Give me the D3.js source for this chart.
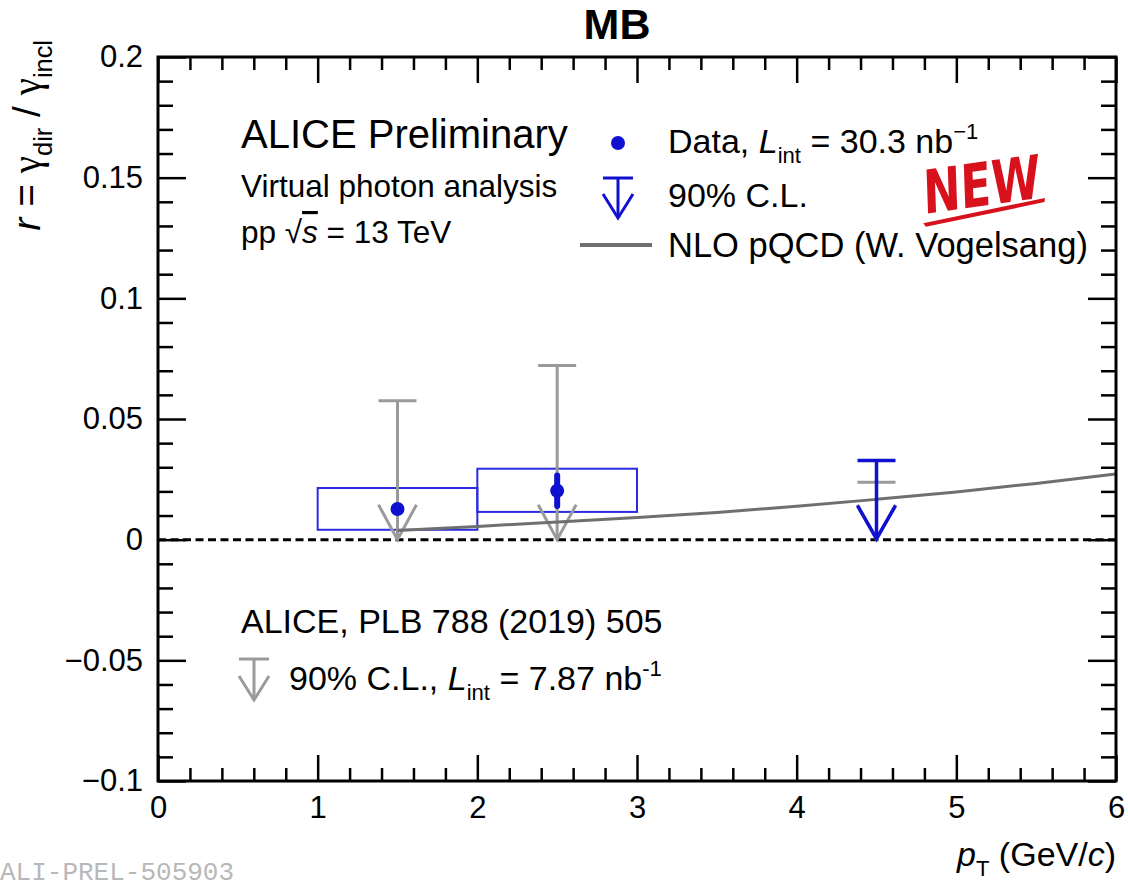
<!DOCTYPE html>
<html>
<head>
<meta charset="utf-8">
<script src="https://cdn.jsdelivr.net/npm/d3@7"></script>
<style>
  html, body { margin: 0; padding: 0; background: #fff; }
</style>
</head>
<body>
<svg id="chart" width="1128" height="889" font-family="'Liberation Sans', Arial, sans-serif"></svg>
<script>
'use strict';

// ---- data ----
const xMajor = [0, 1, 2, 3, 4, 5, 6];
const xMinor = [0.2, 0.4, 0.6, 0.8, 1.2, 1.4, 1.6, 1.8, 2.2, 2.4, 2.6, 2.8, 3.2, 3.4, 3.6, 3.8, 4.2, 4.4, 4.6, 4.8, 5.2, 5.4, 5.6, 5.8];
const yMajor = [-0.1, -0.05, 0, 0.05, 0.1, 0.15, 0.2];
const yMinor = [-0.09, -0.08, -0.07, -0.06, -0.04, -0.03, -0.02, -0.01, 0.01, 0.02, 0.03, 0.04, 0.06, 0.07, 0.08, 0.09, 0.11, 0.12, 0.13, 0.14, 0.16, 0.17, 0.18, 0.19];
const yLabels = ['\u22120.1', '\u22120.05', '0', '0.05', '0.1', '0.15', '0.2'];

// new data points (virtual photon, 13 TeV)
const ptData = [1.5, 2.5];
const rData = [0.0127, 0.0203];
const rStat = [0, 0.0063];
const binLow = [1, 2];
const binHigh = [2, 3];
const sysLow = [0.0041, 0.0115];
const sysHigh = [0.0214, 0.0294];

// new 90% C.L. upper limit
const ulPt = [4.5];
const ulVal = [0.0328];

// PLB 788 (2019) 505 upper limits
const oldUlPt = [1.5, 2.5, 4.5];
const oldUlVal = [0.0576, 0.0722, 0.0238];

// NLO pQCD (W. Vogelsang)
const nloPt = [1.5, 2, 2.5, 3, 3.5, 4, 4.5, 5, 5.5, 6];
const nloR = [0.0038, 0.0055, 0.0073, 0.0092, 0.0113, 0.0138, 0.0167, 0.0198, 0.0233, 0.0272];

// ---- layout ----
const svg = d3.select('#chart');
const pLeft = 158, pRight = 1116, pTop = 57, pBottom = 781;
const x = d3.scaleLinear().domain([0, 6]).range([pLeft, pRight]);
const y = d3.scaleLinear().domain([-0.1, 0.2]).range([pBottom, pTop]);

const blue = '#1010d0';
const grey = '#9a9a9a';
const font = 31;

// helper: write rich text from segments {t, it, sub, sup, fam, over}
function rich(g, segs, size) {
  let shift = 0;
  segs.forEach(s => {
    let want = s.sub ? 0.3 * size : (s.sup ? -0.4 * size : 0);
    let ts = g.append('tspan').text(s.t).attr('dy', want - shift);
    if (s.it) ts.attr('font-style', 'italic');
    if (s.sub || s.sup) ts.attr('font-size', size * 0.65);
    if (s.fam) ts.attr('font-family', s.fam);
    if (s.over) ts.style('text-decoration', 'overline');
    shift = want;
  });
}

// arrow for upper limits
function arrow(g, px, capY, tipY, color, w, half, headH) {
  g.append('line').attr('x1', px - half).attr('x2', px + half)
    .attr('y1', capY).attr('y2', capY);
  g.append('line').attr('x1', px).attr('x2', px)
    .attr('y1', capY).attr('y2', tipY);
  g.append('path')
    .attr('d', `M${px - half},${tipY - headH}L${px},${tipY}L${px + half},${tipY - headH}`)
    .attr('fill', 'none');
  g.attr('stroke', color).attr('stroke-width', w);
}

// zero line
svg.append('line')
  .attr('x1', pLeft).attr('x2', pRight)
  .attr('y1', y(0)).attr('y2', y(0))
  .attr('stroke', '#000').attr('stroke-width', 3)
  .attr('stroke-dasharray', '8,4.5');

// systematic boxes
svg.append('g').selectAll('rect')
  .data(ptData)
  .join('rect')
  .attr('x', (d, i) => x(binLow[i]))
  .attr('width', (d, i) => x(binHigh[i]) - x(binLow[i]))
  .attr('y', (d, i) => y(sysHigh[i]))
  .attr('height', (d, i) => y(sysLow[i]) - y(sysHigh[i]))
  .attr('fill', 'none')
  .attr('stroke', '#2a2ae0')
  .attr('stroke-width', 2);

// old upper limits (grey)
oldUlPt.forEach((p, i) => {
  arrow(svg.append('g'), x(p), y(oldUlVal[i]), y(0), grey, 3, 19, 35);
});

// NLO curve
svg.append('path')
  .datum(nloPt)
  .attr('d', d3.line().x(d => x(d)).y((d, i) => y(nloR[i])).curve(d3.curveMonotoneX))
  .attr('fill', 'none')
  .attr('stroke', '#6f6f6f')
  .attr('stroke-width', 3);

// new upper limit (blue)
ulPt.forEach((p, i) => {
  arrow(svg.append('g'), x(p), y(ulVal[i]), y(0) - 1, blue, 3.5, 19, 33);
});

// stat errors + points
svg.append('g').selectAll('line')
  .data(ptData)
  .join('line')
  .attr('x1', d => x(d)).attr('x2', d => x(d))
  .attr('y1', (d, i) => y(rData[i] + rStat[i]))
  .attr('y2', (d, i) => y(rData[i] - rStat[i]))
  .attr('stroke', blue).attr('stroke-width', 6)
  .attr('stroke-linecap', 'round');

svg.append('g').selectAll('circle')
  .data(ptData)
  .join('circle')
  .attr('cx', d => x(d))
  .attr('cy', (d, i) => y(rData[i]))
  .attr('r', 7)
  .attr('fill', blue);

// ---- axes ----
function styleAxis(g) {
  g.attr('font-family', null).attr('font-size', null);
  g.select('.domain').remove();
  g.selectAll('.tick line').attr('stroke', '#000').attr('stroke-width', 2.5);
  g.selectAll('.tick text').attr('font-size', font).attr('fill', '#000');
}

svg.append('g').attr('transform', `translate(0,${pBottom})`)
  .call(d3.axisBottom(x).tickValues(xMajor).tickSize(-26).tickPadding(15).tickFormat(d3.format('d')))
  .call(styleAxis);
svg.append('g').attr('transform', `translate(0,${pBottom})`)
  .call(d3.axisBottom(x).tickValues(xMinor).tickSize(-13).tickFormat(''))
  .call(styleAxis);
svg.append('g').attr('transform', `translate(0,${pTop})`)
  .call(d3.axisTop(x).tickValues(xMajor).tickSize(-26).tickFormat(''))
  .call(styleAxis);
svg.append('g').attr('transform', `translate(0,${pTop})`)
  .call(d3.axisTop(x).tickValues(xMinor).tickSize(-13).tickFormat(''))
  .call(styleAxis);

svg.append('g').attr('transform', `translate(${pLeft},0)`)
  .call(d3.axisLeft(y).tickValues(yMajor).tickSize(-28).tickPadding(15)
    .tickFormat((d, i) => yLabels[i]))
  .call(styleAxis);
svg.append('g').attr('transform', `translate(${pLeft},0)`)
  .call(d3.axisLeft(y).tickValues(yMinor).tickSize(-15).tickFormat(''))
  .call(styleAxis);
svg.append('g').attr('transform', `translate(${pRight},0)`)
  .call(d3.axisRight(y).tickValues(yMajor).tickSize(-28).tickFormat(''))
  .call(styleAxis);
svg.append('g').attr('transform', `translate(${pRight},0)`)
  .call(d3.axisRight(y).tickValues(yMinor).tickSize(-15).tickFormat(''))
  .call(styleAxis);

svg.append('rect')
  .attr('x', pLeft).attr('y', pTop)
  .attr('width', pRight - pLeft).attr('height', pBottom - pTop)
  .attr('fill', 'none').attr('stroke', '#000').attr('stroke-width', 3);

// axis titles
let xt = svg.append('text').attr('x', pRight).attr('y', 866)
  .attr('text-anchor', 'end').attr('font-size', 34);
rich(xt, [{t: 'p', it: true}, {t: 'T', sub: true}, {t: ' (GeV/'}, {t: 'c', it: true}, {t: ')'}], 34);

const gam = "'Liberation Serif', serif";
let yt = svg.append('text')
  .attr('transform', 'translate(40,40) rotate(-90)')
  .attr('text-anchor', 'end').attr('font-size', 39);
rich(yt, [{t: 'r', it: true}, {t: ' = '}, {t: '\u03b3', fam: gam}, {t: 'dir', sub: true},
  {t: ' / '}, {t: '\u03b3', fam: gam}, {t: 'incl', sub: true}], 39);

// title
svg.append('text').attr('x', 617).attr('y', 39)
  .attr('text-anchor', 'middle').attr('font-size', 43).attr('font-weight', 'bold')
  .text('MB');

// ---- labels ----
svg.append('text').attr('x', 241).attr('y', 148).attr('font-size', 40)
  .text('ALICE Preliminary');
svg.append('text').attr('x', 241).attr('y', 197).attr('font-size', 31.5)
  .text('Virtual photon analysis');
let ss = svg.append('text').attr('x', 241).attr('y', 243).attr('font-size', 31.5);
rich(ss, [{t: 'pp \u221a'}, {t: 's', it: true, over: true}, {t: ' = 13 TeV'}], 31.5);

// legend (new)
const lx = 668;
svg.append('circle').attr('cx', 618).attr('cy', 143).attr('r', 7).attr('fill', blue);
let l1 = svg.append('text').attr('x', lx).attr('y', 153).attr('font-size', 34);
rich(l1, [{t: 'Data, '}, {t: 'L', it: true}, {t: 'int', sub: true}, {t: ' = 30.3 nb'}, {t: '\u22121', sup: true}], 34);

arrow(svg.append('g'), 618, 178, 218, blue, 3, 15, 24);
svg.append('text').attr('x', lx).attr('y', 207).attr('font-size', 34).text('90% C.L.');

svg.append('line').attr('x1', 580).attr('x2', 652).attr('y1', 245).attr('y2', 245)
  .attr('stroke', '#707070').attr('stroke-width', 4);
svg.append('text').attr('x', lx).attr('y', 257).attr('font-size', 34.5).text('NLO pQCD (W. Vogelsang)');

// legend (old)
svg.append('text').attr('x', 241).attr('y', 633).attr('font-size', 34).text('ALICE, PLB 788 (2019) 505');
arrow(svg.append('g'), 254, 659, 700, grey, 3, 15, 24);
let l4 = svg.append('text').attr('x', 289).attr('y', 690).attr('font-size', 34);
rich(l4, [{t: '90% C.L., '}, {t: 'L', it: true}, {t: 'int', sub: true}, {t: ' = 7.87 nb'}, {t: '-1', sup: true}], 34);

// NEW stamp
const stamp = svg.append('g').attr('transform', 'translate(924,214) rotate(-8)');
stamp.append('text').attr('x', 0).attr('y', 0)
  .attr('font-size', 60).attr('font-weight', 'bold')
  .attr('font-family', "'Liberation Sans Narrow', 'DejaVu Sans Condensed', sans-serif")
  .attr('fill', '#d8121c')
  .attr('textLength', 118).attr('lengthAdjust', 'spacingAndGlyphs')
  .attr('transform', 'skewX(-6)')
  .text('NEW');
stamp.append('path')
  .attr('d', 'M-2,9 L122,1 L121,5 L0,13 Z')
  .attr('fill', '#d8121c');

// watermark
svg.append('text').attr('x', 0).attr('y', 880)
  .attr('font-size', 26).attr('font-family', "'Liberation Mono', 'DejaVu Sans Mono', monospace")
  .attr('fill', '#b8b8b8')
  .text('ALI-PREL-505903');
</script>
</body>
</html>
